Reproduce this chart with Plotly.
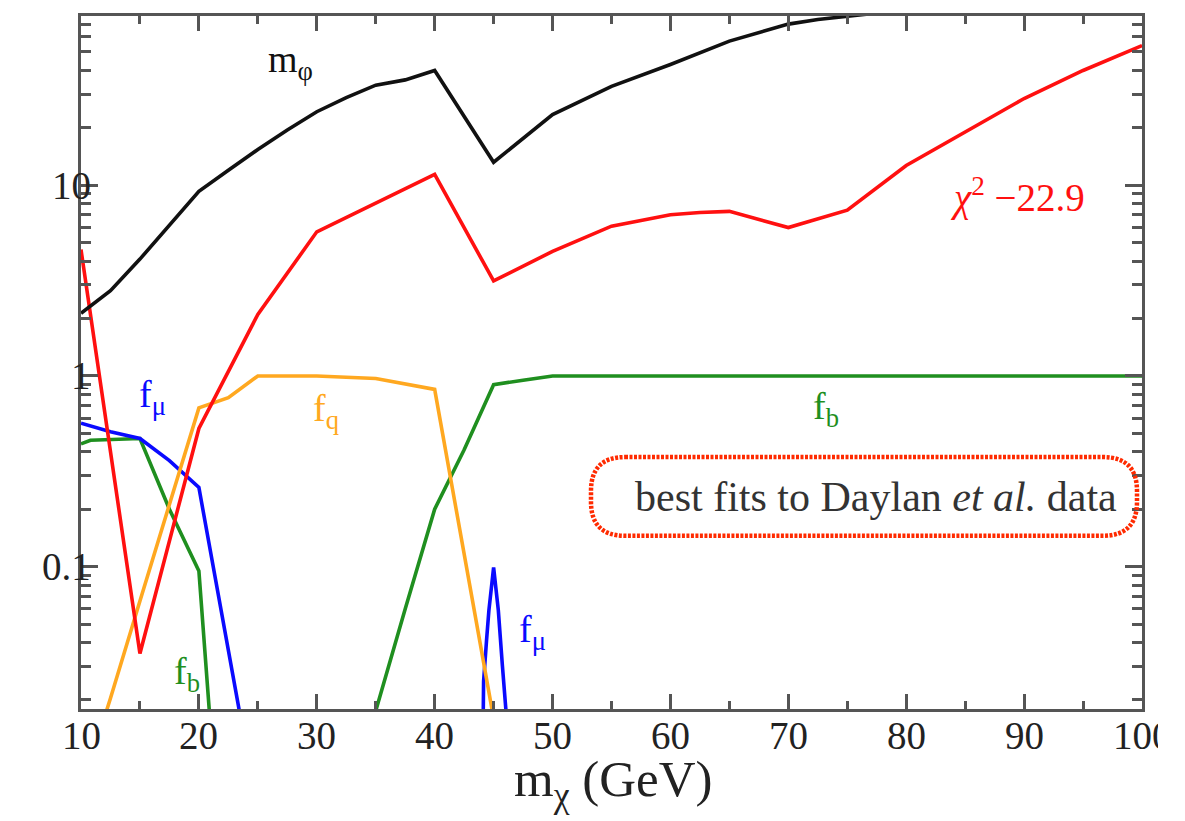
import math
import plotly.graph_objects as go

# ---------------- data ----------------
# m_phi (black)
x_mphi = [10, 12.5, 15, 17.5, 20, 22.5, 25, 27.5, 30, 32.5, 35, 37.5, 40, 45, 50, 55, 60, 65, 70, 72.5, 75, 77.5, 80, 85, 90, 95, 100]
y_mphi = [2.13, 2.8, 4.1, 6.2, 9.3, 12.0, 15.4, 19.5, 24.3, 28.8, 33.5, 35.7, 40.0, 13.2, 23.5, 33.0, 43.0, 57.0, 70.0, 74.0, 77.0, 80.0, 86.0, 100.0, 115.0, 130.0, 150.0]

# chi^2 - 22.9 (red)
x_chi2 = [10, 15, 20, 25, 30, 35, 40, 45, 50, 55, 60, 62.5, 65, 70, 75, 80, 85, 90, 95, 100]
y_chi2 = [4.6, 0.035, 0.53, 2.1, 5.7, 8.1, 11.4, 3.15, 4.5, 6.1, 7.0, 7.2, 7.3, 6.0, 7.4, 12.7, 19.0, 28.5, 40.0, 54.0]

# f_q (orange)
x_fq = [10, 12.5, 15, 17.5, 20, 22.5, 25, 30, 35, 40, 42.5, 45, 47.5, 50, 100]
y_fq = [0.0066, 0.0204, 0.066, 0.21, 0.68, 0.77, 1.0, 1.0, 0.97, 0.85, 0.117, 0.016, 0.0005, 0.0001, 0.0001]

# f_mu (blue)
x_fmu = [10, 12.5, 15, 17.5, 20, 22.5, 25, 30, 35, 40, 43.9, 44.05, 44.15, 44.4, 44.6, 45.0, 45.4, 45.75, 46.1, 46.3, 50, 100]
y_fmu = [0.565, 0.51, 0.47, 0.36, 0.26, 0.038, 0.0055, 0.0001, 0.0001, 0.0001, 0.001, 0.016, 0.025, 0.041, 0.059, 0.099, 0.059, 0.030, 0.016, 0.001, 0.0001, 0.0001]

# f_b (green)
x_fb = [10, 10.8, 15, 17.5, 20, 22.5, 25, 30, 32.5, 35, 37.5, 40, 42.5, 45, 47.5, 50, 100]
y_fb = [0.44, 0.46, 0.47, 0.2, 0.095, 0.0008, 0.0001, 0.0001, 0.004, 0.0175, 0.06, 0.2, 0.41, 0.9, 0.95, 1.0, 1.0]

x_tickvals = [10, 20, 30, 40, 50, 60, 70, 80, 90, 100]
x_ticktext = ["10", "20", "30", "40", "50", "60", "70", "80", "90", "100"]
y_tickvals = [0.1, 1, 10]
y_ticktext = ["0.1", "1", "10"]
y_minor = [k * 10.0 ** e for e in (-2, -1, 0, 1) for k in range(2, 10)]

# ---------------- styling ----------------
# the page body has an 8px margin, so the figure is shifted by (8, 8)
OFF = 8
RIGHT_EDGE = 1158                       # the reference picture is cropped here
W, H = RIGHT_EDGE - OFF, 821 - OFF
PL, PR, PT, PB = 81, 1142, 13, 709      # wanted plot box in window pixels
ML, MT = PL - OFF, PT - OFF
PW, PH = PR - PL, PB - PT
MR, MB = W - ML - PW, H - MT - PH
FONT = "Liberation Serif"
AX = "#555555"
TICKFONT = dict(family=FONT, size=39, color="#222")

def px(x):
    return (x - PL) / PW

def py(y):
    return (PB - y) / PH

fig = go.Figure()

def add(x, y, color):
    fig.add_trace(go.Scatter(x=x, y=y, mode="lines",
                             line=dict(color=color, width=3.6),
                             hoverinfo="skip", showlegend=False))

add(x_fb, y_fb, "#1f8f1f")
add(x_fmu, y_fmu, "#0a0aff")
add(x_fq, y_fq, "#ffa820")
add(x_chi2, y_chi2, "#ff1010")
add(x_mphi, y_mphi, "#111111")

fig.update_xaxes(
    range=[10, 100], tickvals=x_tickvals, ticktext=x_ticktext, showticklabels=False,
    ticks="inside", ticklen=15, tickwidth=2.5, tickcolor=AX,
    minor=dict(ticks="inside", ticklen=8, tickwidth=2.5, tickcolor=AX, dtick=5, tick0=10, showgrid=False),
    showline=True, linecolor=AX, linewidth=3, mirror="ticks",
    showgrid=False, zeroline=False,
)
fig.update_yaxes(
    type="log", range=[-1.7467, 1.8877],
    tickvals=y_tickvals, ticktext=y_ticktext, showticklabels=False,
    ticks="inside", ticklen=17, tickwidth=2.5, tickcolor=AX,
    minor=dict(ticks="inside", ticklen=10, tickwidth=2.5, tickcolor=AX, tickvals=y_minor, showgrid=False),
    showline=True, linecolor=AX, linewidth=3, mirror="ticks",
    showgrid=False, zeroline=False,
)

# tick labels, placed on the axes' own scales, tight to the axis lines
for v, t in zip(y_tickvals, y_ticktext):
    fig.add_annotation(text=t, x=0, xref="paper", y=math.log10(v), yref="y",
                       xanchor="right", yanchor="middle", xshift=12, showarrow=False,
                       font=TICKFONT)
for v, t in zip(x_tickvals, x_ticktext):
    fig.add_annotation(text=t, x=v, xref="x", y=0, yref="paper",
                       xanchor="center", yanchor="middle", yshift=-26, showarrow=False,
                       font=TICKFONT)

def label(text, x, y, color, size=38):
    fig.add_annotation(text=text, x=px(x), y=py(y), xref="paper", yref="paper",
                       xanchor="center", yanchor="middle", showarrow=False,
                       font=dict(family=FONT, size=size, color=color))

label("m<sub>φ</sub>", 290, 59, "#111111")
label("<i>χ</i><sup>2</sup> −22.9", 1017, 193, "#ff1010", size=39)
label("f<sub>μ</sub>", 152, 396, "#0a0aff")
label("f<sub>q</sub>", 326, 410, "#ffa820")
label("f<sub>b</sub>", 187, 674, "#1f8f1f")
label("f<sub>μ</sub>", 532, 632, "#0a0aff")
label("f<sub>b</sub>", 826, 408, "#1f8f1f")
label("best fits to Daylan <i>et al.</i> data", 876, 496, "#333333", size=42)
label("m<sub>χ</sub> (GeV)", 613, 783, "#222222", size=51)

# rounded (stadium-like) dotted box around the note
bx0, bx1, by0, by1, r = 591, 1137, 456, 535, 34
pts = [
    f"M {px(bx0 + r)} {py(by0)}",
    f"L {px(bx1 - r)} {py(by0)}",
    f"Q {px(bx1)} {py(by0)} {px(bx1)} {py(by0 + r)}",
    f"L {px(bx1)} {py(by1 - r)}",
    f"Q {px(bx1)} {py(by1)} {px(bx1 - r)} {py(by1)}",
    f"L {px(bx0 + r)} {py(by1)}",
    f"Q {px(bx0)} {py(by1)} {px(bx0)} {py(by1 - r)}",
    f"L {px(bx0)} {py(by0 + r)}",
    f"Q {px(bx0)} {py(by0)} {px(bx0 + r)} {py(by0)}",
    "Z",
]
fig.add_shape(type="path", path=" ".join(pts), xref="paper", yref="paper",
              line=dict(color="#ff2a00", width=4.5, dash="3px,1.5px"))

fig.update_layout(
    width=W, height=H,
    margin=dict(l=ML, r=MR, t=MT, b=MB),
    paper_bgcolor="white", plot_bgcolor="white",
    showlegend=False,
)

fig.write_html("out.html")
